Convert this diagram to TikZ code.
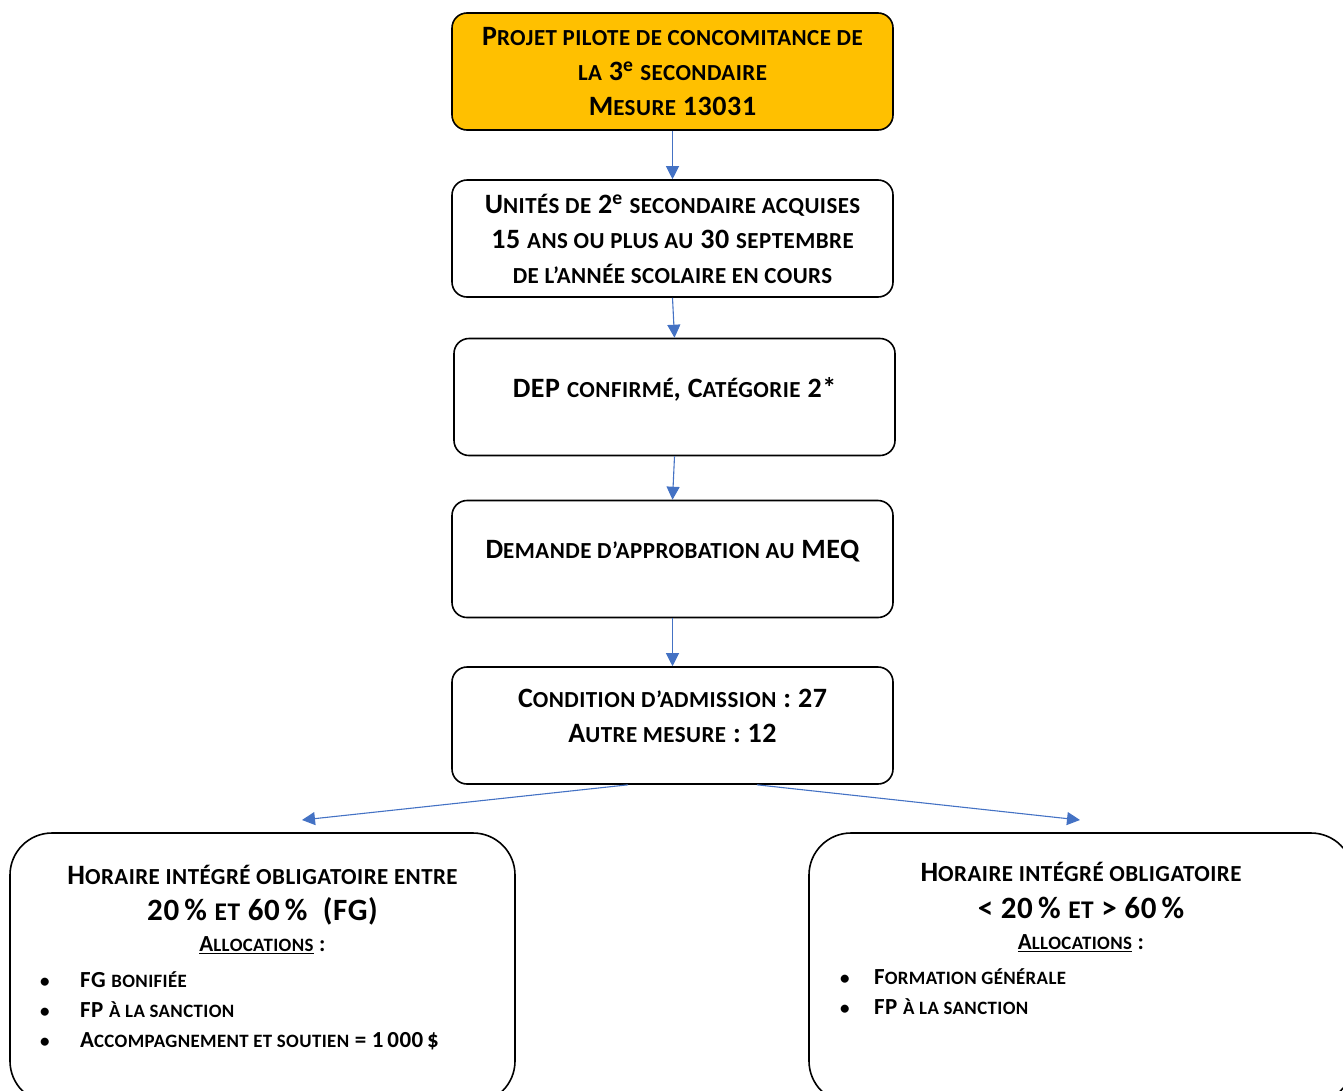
\documentclass[tikz,border=0pt]{standalone}
\usepackage{fontspec}
\setmainfont{Carlito}[LetterSpace=2]
\usetikzlibrary{positioning,arrows.meta}
\definecolor{mesureorange}{HTML}{FFC000}
\definecolor{arrowblue}{HTML}{4472C4}
\makeatletter
\newcommand\lc[1]{{\fontsize{\fpeval{0.82*\f@size}}{\f@baselineskip}\selectfont\MakeUppercase{#1}}}
\makeatother
\newcommand\dotmark{{\fontsize{19}{19}\selectfont •}}
\tikzstyle{stepbox} = [rectangle, rounded corners=15pt, minimum width=441pt, minimum height=117pt, text centered, align=center, draw=black, line width=1.6pt, fill=white, font=\fontsize{28}{35}\selectfont\bfseries]
\tikzstyle{headbox} = [stepbox, fill=mesureorange]
\tikzstyle{lifted} = [text depth=19pt]
\tikzstyle{bigbox} = [rectangle, rounded corners=42pt, minimum height=270pt, draw=black, line width=1.6pt, fill=white]
\tikzstyle{line28} = [anchor=base, inner sep=0pt, font=\fontsize{28}{34}\selectfont\bfseries]
\tikzstyle{line31} = [anchor=base, inner sep=0pt, font=\fontsize{31}{37}\selectfont\bfseries]
\tikzstyle{line23} = [anchor=base, inner sep=0pt, font=\fontsize{23}{28}\selectfont\bfseries]
\tikzstyle{bullet} = [line23, anchor=base west]
\tikzstyle{arrow} = [line width=1.1pt, draw=arrowblue, -{Triangle[length=13pt,width=13pt]}]

\begin{document}
\begin{tikzpicture}[x=1pt, y=-1pt, node distance=163pt]

	\useasboundingbox (0,0) rectangle (1343,1090);
	\clip (0,0) rectangle (1343,1090);

	\node (projet) [headbox] at (672.5,71.5) {P\lc{rojet pilote de concomitance de}\\\lc{la} 3\textsuperscript{e} \lc{secondaire}\\M\lc{esure} 13031};

	\node (unites) [stepbox, below of=projet, node distance=167pt] {U\lc{nités de} 2\textsuperscript{e} \lc{secondaire acquises}\\15 \lc{ans ou plus au} 30 \lc{septembre}\\\lc{de l’année scolaire en cours}};

	\node (dep) [stepbox, lifted, below of=unites, node distance=158.5pt, xshift=2pt] {DEP \lc{confirmé}, C\lc{atégorie} 2*};

	\node (demande) [stepbox, lifted, below of=dep, node distance=162pt, xshift=-2pt] {D\lc{emande d’approbation au} MEQ};

	\node (cond) [stepbox, lifted, below of=demande, node distance=166.5pt] {C\lc{ondition d’admission} : 27\\A\lc{utre mesure} : 12};

	\node (leftBox) [bigbox, minimum width=505pt] at (262.5,968) {};

	\node (rightBox) [bigbox, minimum width=544pt] at (1081,968) {};

	\coordinate (leftTip) at (302,820);
	\coordinate (rightTip) at (1080,820);

	\node (leftHead) [line28] at (262.5,884) {H\lc{oraire intégré obligatoire entre}};
	\node (leftRange) [line31] at (262.5,920) {20\,\% \lc{et} 60\,\% \ (FG)};
	\node (leftAlloc) [line23] at (262.5,951.5) {\underline{A\lc{llocations}} :};
	\node (leftDotA) [bullet] at (40,987.5) {\dotmark};
	\node (leftItemA) [bullet] at (80,987.5) {FG \lc{bonifiée}};
	\node (leftDotB) [bullet] at (40,1017.5) {\dotmark};
	\node (leftItemB) [bullet] at (80,1017.5) {FP \lc{à la sanction}};
	\node (leftDotC) [bullet] at (40,1047.5) {\dotmark};
	\node (leftItemC) [bullet] at (80,1047.5) {A\lc{ccompagnement et soutien} = 1\,000\,\$};

	\node (rightHead) [line28] at (1081,881) {H\lc{oraire intégré obligatoire}};
	\node (rightRange) [line31] at (1081,918) {< 20\,\% \lc{et} > 60\,\%};
	\node (rightAlloc) [line23] at (1081,949.5) {\underline{A\lc{llocations}} :};
	\node (rightDotA) [bullet] at (840,984.5) {\dotmark};
	\node (rightItemA) [bullet] at (874,984.5) {F\lc{ormation générale}};
	\node (rightDotB) [bullet] at (840,1014.5) {\dotmark};
	\node (rightItemB) [bullet] at (874,1014.5) {FP \lc{à la sanction}};

	\draw [arrow] (projet.south) -- (unites.north);
	\draw [arrow] (unites.south) -- (dep.north);
	\draw [arrow] (dep.south) -- (demande.north);
	\draw [arrow] (demande.south) -- (cond.north);

	\draw [arrow] ([xshift=-44.5pt]cond.south) -- (leftTip);
	\draw [arrow] ([xshift=84.5pt]cond.south) -- (rightTip);

\end{tikzpicture}
\end{document}
